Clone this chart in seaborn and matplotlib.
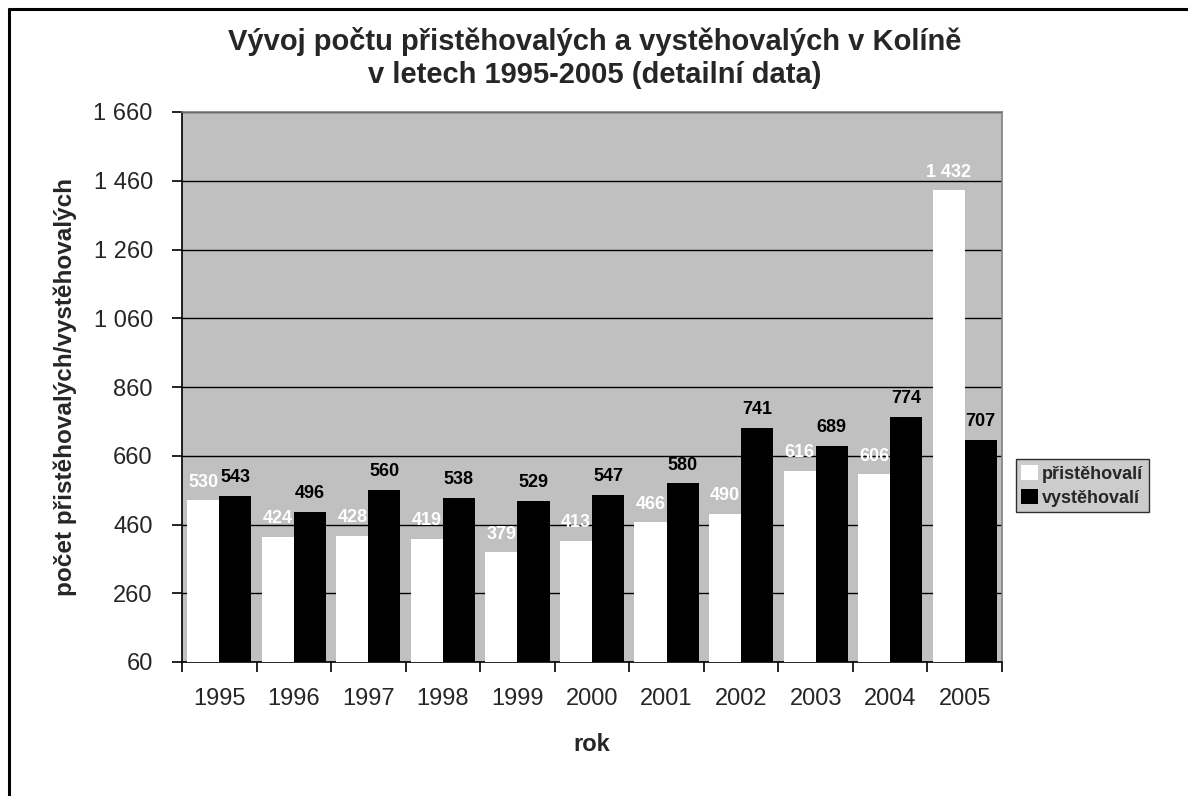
import numpy as np
import pandas as pd
import seaborn as sns
import matplotlib.pyplot as plt
from matplotlib.lines import Line2D
from matplotlib.ticker import FixedLocator, FuncFormatter

# data
years = ['1995', '1996', '1997', '1998', '1999', '2000', '2001', '2002', '2003', '2004', '2005']
prist = [530, 424, 428, 419, 379, 413, 466, 490, 616, 606, 1432]
vyst = [543, 496, 560, 538, 529, 547, 580, 741, 689, 774, 707]
series = ['přistěhovalí', 'vystěhovalí']

df = pd.DataFrame({
    'rok': years * 2,
    'pocet': prist + vyst,
    'typ': [series[0]] * len(years) + [series[1]] * len(years),
})

sns.set_style('white')
plt.rcParams['font.family'] = ['Liberation Sans', 'DejaVu Sans']

fig = plt.figure(figsize=(11.88, 7.96), dpi=100)
ax = fig.add_axes([182 / 1188, 134 / 796, 820 / 1188, 550 / 796])
ax.set_facecolor('#C0C0C0')

sns.barplot(data=df, x='rok', y='pocet', hue='typ', order=years, hue_order=series,
            palette=['white', 'black'], width=0.86, gap=0, saturation=1,
            linewidth=0, ax=ax, legend=False, zorder=3)

ax.set_ylim(60, 1660)
ax.set_xlim(-0.5, len(years) - 0.5)
ax.set_yticks(np.arange(60, 1661, 200))
ax.yaxis.set_major_formatter(FuncFormatter(lambda v, p: f'{int(v):,}'.replace(',', ' ')))
ax.grid(axis='y', color='black', linewidth=1, zorder=1)
ax.set_axisbelow(True)

# x ticks marks between categories, labels at centres
ax.xaxis.set_minor_locator(FixedLocator(np.arange(-0.5, len(years), 1)))
ax.tick_params(axis='x', which='major', length=0, pad=19, labelsize=17)
ax.tick_params(axis='x', which='minor', length=7, width=1.2, color='black', direction='out', bottom=True)
ax.tick_params(axis='y', which='major', length=7, width=1.2, color='black', direction='out',
               left=True, labelsize=17, pad=14)

for side in ['top', 'right']:
    ax.spines[side].set_color('#808080')
    ax.spines[side].set_linewidth(1.2)
for side in ['left', 'bottom']:
    ax.spines[side].set_color('black')
    ax.spines[side].set_linewidth(1.2)

# value labels
for cont, col in zip(ax.containers, ['white', 'black']):
    ax.bar_label(cont, labels=[f'{int(v):,}'.replace(',', ' ') for v in cont.datavalues],
                 padding=7, color=col, fontsize=13, fontweight='bold')

ax.set_xlabel('rok', fontsize=17, fontweight='bold', labelpad=16)
ax.set_ylabel('počet přistěhovalých/vystěhovalých', fontsize=17.5, fontweight='bold', labelpad=12)

fig.text(595 / 1188, 1 - 58 / 796,
         'Vývoj počtu přistěhovalých a vystěhovalých v Kolíně\nv letech 1995-2005 (detailní data)',
         ha='center', va='center', fontsize=21, fontweight='bold', linespacing=1.2)

# legend
handles = [plt.Rectangle((0, 0), 1, 1, facecolor=c, edgecolor='none') for c in ['white', 'black']]
leg = fig.legend(handles, series, loc='lower left', bbox_to_anchor=(1016 / 1188, 1 - 512 / 796),
                 frameon=True, fancybox=False, facecolor='#C0C0C0', edgecolor='black',
                 prop={'size': 13, 'weight': 'bold'}, handlelength=0.9, handleheight=0.9,
                 handletextpad=0.25, borderpad=0.3, labelspacing=0.35, borderaxespad=0)
leg.get_frame().set_linewidth(1)

# chart border (top and left visible)
fig.add_artist(Line2D([9 / 1188, 9 / 1188], [0, 1 - 9 / 796], color='black', linewidth=2.2))
fig.add_artist(Line2D([9 / 1188, 1], [1 - 9 / 796, 1 - 9 / 796], color='black', linewidth=2.2))

fig.savefig('out.png', dpi=100)
